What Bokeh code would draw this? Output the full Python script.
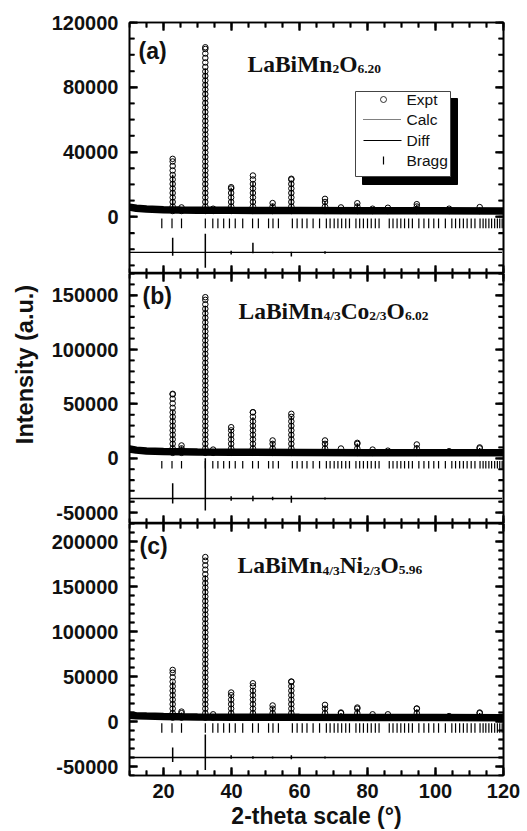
import numpy as np
from bokeh.plotting import figure
from bokeh.layouts import column, row
from bokeh.models import LinearAxis, SingleIntervalTicker, NumeralTickFormatter, Label, Range1d
from bokeh.embed import file_html
from bokeh.resources import INLINE

# ---------------- data ----------------
X_MIN, X_MAX = 10, 120

peak_pos = [22.7, 25.3, 32.3, 34.6, 39.9, 46.3, 52.1, 57.6, 67.5, 72.2, 77.0, 81.5, 86.0, 94.5, 104.0, 113.0]

bg_x = [10, 12, 15, 20, 25, 30, 40, 60, 80, 100, 120]

# (a) LaBiMn2O6.20
bg_a = [6000, 5300, 4800, 4400, 4200, 4100, 4000, 3900, 3800, 3700, 3600]
obs_a = [35800, 5800, 104700, 5000, 18300, 25500, 8500, 23500, 11100, 5800, 8400, 5000, 5600, 7800, 5000, 6000]
calc_a = [26000, 5500, 91400, 4800, 18000, 21400, 8000, 22500, 10000, 5500, 8000, 4800, 5400, 7500, 4800, 5800]

# (b) LaBiMn4/3Co2/3O6.02
bg_b = [8500, 7500, 6800, 6200, 6000, 5800, 5600, 5400, 5200, 5000, 5000]
obs_b = [59300, 11800, 148200, 8000, 28600, 42400, 16400, 40900, 16400, 9000, 14200, 8000, 7000, 12700, 6500, 10000]
calc_b = [44000, 11000, 140000, 7500, 27000, 37800, 15500, 39000, 15500, 8500, 13500, 7500, 6800, 12000, 6200, 9500]

# (c) LaBiMn4/3Ni2/3O5.96
bg_c = [7000, 6500, 6000, 5500, 5200, 5000, 4800, 4600, 4500, 4400, 4300]
obs_c = [57300, 11000, 182700, 8000, 32200, 42500, 17800, 44400, 18500, 10000, 15500, 8000, 8000, 14400, 6000, 10000]
calc_c = [44400, 10000, 162400, 7500, 30000, 37000, 16500, 42000, 17000, 9500, 14500, 7500, 7500, 13500, 5800, 9500]

# difference curves (offset level and spikes)
diff_x = [10.0, 119.6]
diff_level_a, diff_level_b, diff_level_c = -22000, -37000, -40000
diff_pos = [22.7, 32.3, 39.9, 46.3, 52.1, 57.6, 67.5]
diff_hi_a = [9000, 11500, 1000, 6000, 500, 500, 800]
diff_lo_a = [-2000, -9500, -1200, -500, -500, -2500, -800]
diff_hi_b = [14000, 37000, 2000, 2500, 1500, 2500, 1000]
diff_lo_b = [-4500, -11000, -2000, -2500, -1500, -4000, -1000]
diff_hi_c = [11000, 25500, 2500, 1500, 1000, 2500, 1000]
diff_lo_c = [-5000, -14000, -1500, -1500, -1000, -2000, -1000]

# Bragg reflection positions
bragg_pos = [19.5, 22.5, 25.3, 32.3, 34.5, 36.0, 37.7, 39.4, 41.1, 43.3, 46.2, 47.9, 50.9, 52.2, 53.8,
             57.9, 59.3, 60.8, 62.2, 64.0, 65.9, 67.9, 69.0, 70.2, 71.3, 72.4, 73.6, 74.7,
             76.6, 77.7, 78.8, 80.0, 81.1, 82.3, 83.4, 86.4, 87.5, 88.7, 89.8, 90.9, 92.1, 93.2,
             95.1, 96.6, 98.0, 99.5, 100.9, 102.9, 104.8, 105.9, 107.1, 108.2, 109.3, 110.5, 111.6,
             113.1, 114.0, 114.8, 115.7, 116.5, 117.4, 118.2, 118.9, 119.6]
bragg_a = (-1000, -7000)
bragg_b = (-2500, -9500)
bragg_c = (-2000, -12500)

titles = {
    "a": [("LaBiMn", False), ("2", True), ("O", False), ("6.20", True)],
    "b": [("LaBiMn", False), ("4/3", True), ("Co", False), ("2/3", True), ("O", False), ("6.02", True)],
    "c": [("LaBiMn", False), ("4/3", True), ("Ni", False), ("2/3", True), ("O", False), ("5.96", True)],
}
legend_labels = ["Expt", "Calc", "Diff", "Bragg"]
y_title = "Intensity (a.u.)"
x_title = "2-theta scale (°)"

# ---------------- layout geometry (pixels) ----------------
W, H = 527, 831
LW = 48                      # width of the strip holding the y title
FRAME_L, FRAME_R = 129, 503  # absolute frame edges
GEOM = {
    "a": dict(ymin=-35000, ymax=120000, major=40000, minor=10000, top=22, fh=251),
    "b": dict(ymin=-60000, ymax=170000, major=50000, minor=10000, top=273, fh=250),
    "c": dict(ymin=-60000, ymax=220000, major=50000, minor=10000, top=523, fh=253),
}
X_MAJOR, X_MINOR = 20, 5
FONT = "Liberation Sans"
SERIF = "Liberation Serif"
PPU_X = (FRAME_R - FRAME_L) / (X_MAX - X_MIN)
TICK_MAJ, TICK_MIN = 8, 5


def dx(px):
    return X_MIN + (px - FRAME_L) / PPU_X


def dy(k, py):
    g = GEOM[k]
    return g["ymax"] - (py - g["top"]) * (g["ymax"] - g["ymin"]) / g["fh"]


def cpp(k):
    g = GEOM[k]
    return (g["ymax"] - g["ymin"]) / g["fh"]


def style_axis(ax, labels):
    ax.axis_line_width = 1.6
    ax.axis_line_color = "black"
    ax.major_tick_in = TICK_MAJ
    ax.major_tick_out = 0
    ax.minor_tick_in = TICK_MIN
    ax.minor_tick_out = 0
    ax.major_tick_line_width = 2
    ax.minor_tick_line_width = 1.6
    ax.major_tick_line_color = "black"
    ax.minor_tick_line_color = "black"
    if labels:
        ax.major_label_text_font = FONT
        ax.major_label_text_font_style = "bold"
        ax.major_label_text_font_size = "20px"
        ax.major_label_text_color = "#111111"
    else:
        ax.major_label_text_font_size = "0px"
        ax.major_label_text_alpha = 0
        ax.major_label_standoff = 0


def make_panel(k, height, btop, bbottom, xlabels):
    g = GEOM[k]
    p = figure(width=W - LW, height=height, x_range=Range1d(X_MIN, X_MAX),
               y_range=Range1d(g["ymin"], g["ymax"]), output_backend="svg",
               toolbar_location=None, x_axis_location=None, y_axis_location=None,
               min_border_left=FRAME_L - LW, min_border_right=W - FRAME_R,
               min_border_top=btop, min_border_bottom=bbottom)
    p.grid.visible = False
    p.outline_line_color = "black"
    p.outline_line_width = 1.6

    for side in ("left", "right"):
        ax = LinearAxis(ticker=SingleIntervalTicker(interval=g["major"], num_minor_ticks=g["major"] // g["minor"]),
                        formatter=NumeralTickFormatter(format="0"))
        style_axis(ax, side == "left")
        if side == "left":
            ax.major_label_standoff = 11
        p.add_layout(ax, side)
    for side in ("below", "above"):
        ax = LinearAxis(ticker=SingleIntervalTicker(interval=X_MAJOR, num_minor_ticks=X_MAJOR // X_MINOR))
        show = xlabels and side == "below"
        style_axis(ax, show)
        if show:
            ax.major_label_standoff = 8
            ax.axis_label = x_title
            ax.axis_label_text_font = FONT
            ax.axis_label_text_font_style = "bold"
            ax.axis_label_text_font_size = "23px"
            ax.axis_label_text_color = "#111111"
            ax.axis_label_standoff = 2
        p.add_layout(ax, side)

    # inward mirror ticks also drawn as glyphs in the frame
    yt = list(range(int(np.ceil(g["ymin"] / g["minor"])) * g["minor"], g["ymax"] + 1, g["minor"]))
    yl = [TICK_MAJ if v % g["major"] == 0 else TICK_MIN for v in yt]
    p.segment(x0=[X_MIN] * len(yt), y0=yt, x1=[X_MIN + L / PPU_X for L in yl], y1=yt,
              line_color="black", line_width=1.8)
    p.segment(x0=[X_MAX] * len(yt), y0=yt, x1=[X_MAX - L / PPU_X for L in yl], y1=yt,
              line_color="black", line_width=1.8)
    xt = list(range(X_MIN, X_MAX + 1, X_MINOR))
    xl = [TICK_MAJ if v % X_MAJOR == 0 else TICK_MIN for v in xt]
    p.segment(x0=xt, y0=[g["ymin"]] * len(xt), x1=xt, y1=[g["ymin"] + L * cpp(k) for L in xl],
              line_color="black", line_width=1.8)
    p.segment(x0=xt, y0=[g["ymax"]] * len(xt), x1=xt, y1=[g["ymax"] - L * cpp(k) for L in xl],
              line_color="black", line_width=1.8)
    return p


def draw_pattern(p, k, bg, obs, calc, dlevel, dhi, dlo, bragg):
    step = 4.5 * cpp(k)
    base = min(bg)
    # background band (dense observed points)
    p.line(bg_x, bg, line_width=7.5, line_color="black")
    # observed points in each peak
    xs, ys = [], []
    for x0, top in zip(peak_pos, obs):
        lv = list(np.arange(base, top, step)) + [top]
        xs += [x0] * len(lv)
        ys += lv
    p.scatter(xs, ys, marker="circle", size=5.5, fill_color=None, line_color="black", line_width=1.0)
    # calculated profile through the peaks
    p.segment(x0=peak_pos, y0=[base] * len(peak_pos), x1=peak_pos, y1=calc, line_color="black", line_width=1.4)
    # Bragg positions
    p.segment(x0=bragg_pos, y0=[bragg[0]] * len(bragg_pos), x1=bragg_pos, y1=[bragg[1]] * len(bragg_pos),
              line_color="black", line_width=1.2)
    # difference curve
    p.line(diff_x, [dlevel, dlevel], line_color="black", line_width=1.3)
    p.segment(x0=diff_pos, y0=[dlevel + v for v in dlo], x1=diff_pos, y1=[dlevel + v for v in dhi],
              line_color="black", line_width=1.5)


def add_title(p, k, px, py, parts):
    x0, y0 = dx(px), dy(k, py)
    off = 0.0
    big, small = 23.5, 13.5
    widths = {"L": .667, "a": .5, "B": .667, "i": .278, "M": .944, "n": .556, "O": .778, "C": .722,
              "o": .5, "N": .722, "/": .278, ".": .25}
    for txt, sub in parts:
        fs = small if sub else big
        p.add_layout(Label(x=x0, y=y0, x_offset=off, y_offset=-5 if sub else 0, text=txt,
                           text_font=SERIF, text_font_style="bold", text_font_size=f"{fs}px",
                           text_baseline="alphabetic", text_align="left", text_color="#111111"))
        off += sum(widths.get(ch, .5) for ch in txt) * fs


def add_letter(p, k, px, py, txt):
    p.add_layout(Label(x=dx(px), y=dy(k, py), text=txt, text_font=FONT, text_font_style="bold",
                       text_font_size="23px", text_baseline="middle", text_align="left",
                       text_color="#111111"))


pa = make_panel("a", 273, 22, 0, False)
pb = make_panel("b", 250, 0, 0, False)
pc = make_panel("c", 308, 0, 55, True)

draw_pattern(pa, "a", bg_a, obs_a, calc_a, diff_level_a, diff_hi_a, diff_lo_a, bragg_a)
draw_pattern(pb, "b", bg_b, obs_b, calc_b, diff_level_b, diff_hi_b, diff_lo_b, bragg_b)
draw_pattern(pc, "c", bg_c, obs_c, calc_c, diff_level_c, diff_hi_c, diff_lo_c, bragg_c)

add_letter(pa, "a", 138, 50, "(a)")
add_letter(pb, "b", 142, 295, "(b)")
add_letter(pc, "c", 139, 546, "(c)")

add_title(pa, "a", 247, 63, titles["a"])
add_title(pb, "b", 238, 310, titles["b"])
add_title(pc, "c", 237, 565, titles["c"])

# legend in panel (a)
pa.quad(left=[dx(362)], right=[dx(457)], top=[dy("a", 98)], bottom=[dy("a", 184)],
        fill_color="black", line_color="black")
pa.quad(left=[dx(355)], right=[dx(450)], top=[dy("a", 91)], bottom=[dy("a", 176)],
        fill_color="white", line_color="#444444", line_width=1)
rows = [dy("a", 99), dy("a", 119), dy("a", 140), dy("a", 160)]
pa.scatter([dx(383)], [rows[0]], marker="circle", size=6, fill_color=None, line_color="black", line_width=0.8)
pa.line([dx(363), dx(401)], [rows[1], rows[1]], line_color="black", line_width=1, line_dash="1 1")
pa.line([dx(363), dx(401)], [rows[2], rows[2]], line_color="black", line_width=1.2)
pa.segment(x0=[dx(383)], y0=[rows[3] - 4 * cpp("a")], x1=[dx(383)], y1=[rows[3] + 4 * cpp("a")],
           line_color="black", line_width=1.2)
for lab, yy in zip(legend_labels, rows):
    pa.add_layout(Label(x=dx(406), y=yy, text=lab, text_font=FONT, text_font_size="15.5px",
                        text_baseline="middle", text_align="left", text_color="#111111"))

# strip on the left holding the shared y-axis title
ps = figure(width=LW, height=H, x_range=Range1d(0, LW), y_range=Range1d(0, H), output_backend="svg",
            toolbar_location=None, x_axis_location=None, y_axis_location=None,
            min_border_left=0, min_border_right=0, min_border_top=0, min_border_bottom=0)
ps.grid.visible = False
ps.outline_line_color = None
ps.add_layout(Label(x=24, y=H - 364, text=y_title, angle=np.pi / 2,
                    text_font=FONT, text_font_style="bold", text_font_size="23.5px",
                    text_align="center", text_baseline="middle", text_color="#111111"))

layout = row(ps, column(pa, pb, pc, spacing=0), spacing=0)
open("out.html", "w").write(file_html(layout, INLINE))
